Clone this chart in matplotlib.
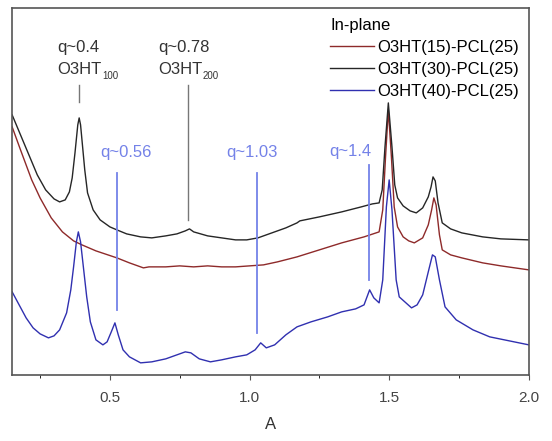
import matplotlib.pyplot as plt

plt.rcParams["font.family"] = ["Liberation Sans", "DejaVu Sans"]

# in-plane line cuts, intensity in arbitrary units (offset stacked)
q_30 = [0.15, 0.18, 0.21, 0.24, 0.27, 0.30, 0.32, 0.34, 0.355, 0.365, 0.375, 0.385, 0.39,
        0.395, 0.40, 0.41, 0.42, 0.44, 0.465, 0.50, 0.525, 0.56, 0.61, 0.65, 0.70, 0.74,
        0.77, 0.785, 0.80, 0.85, 0.90, 0.95, 0.99, 1.03, 1.08, 1.13, 1.17, 1.18, 1.25, 1.33,
        1.40, 1.44, 1.464, 1.475, 1.485, 1.497, 1.51, 1.52, 1.53, 1.55, 1.575, 1.597, 1.62,
        1.64, 1.65, 1.657, 1.665, 1.675, 1.69, 1.72, 1.76, 1.835, 1.9, 2.0]
i_30 = [260, 240, 220, 200, 185, 176, 173, 175, 183, 197, 222, 250, 257,
        250, 235, 205, 182, 165, 155, 148, 145, 141, 138, 137, 139, 141,
        144, 146, 143, 139, 137, 135, 135, 137, 142, 147, 152, 154, 158, 163,
        168, 171, 172, 185, 228, 272, 228, 190, 177, 169, 164, 162, 167,
        178, 188, 198, 194, 172, 152, 146, 142, 138, 136, 135]

q_15 = [0.15, 0.18, 0.22, 0.25, 0.29, 0.33, 0.37, 0.40, 0.45, 0.525, 0.57, 0.62, 0.64, 0.70,
        0.75, 0.80, 0.85, 0.90, 0.95, 1.00, 1.05, 1.10, 1.17, 1.25, 1.33, 1.41, 1.464, 1.477,
        1.487, 1.497, 1.508, 1.518, 1.53, 1.55, 1.57, 1.59, 1.62, 1.64, 1.652, 1.66, 1.668,
        1.68, 1.69, 1.72, 1.76, 1.835, 1.9, 2.0]
i_15 = [248, 225, 195, 177, 157, 143, 134, 130, 124, 117, 112, 107, 108, 108,
        109, 108, 109, 108, 108, 109, 110, 113, 118, 125, 132, 138, 143, 165,
        218, 265, 218, 168, 148, 138, 134, 132, 137, 150, 165, 177, 170,
        140, 125, 120, 117, 112, 109, 105]

q_40 = [0.15, 0.175, 0.20, 0.225, 0.25, 0.28, 0.30, 0.32, 0.345, 0.36, 0.37, 0.38, 0.387,
        0.395, 0.405, 0.417, 0.43, 0.45, 0.475, 0.49, 0.505, 0.518, 0.53, 0.547, 0.57, 0.61,
        0.65, 0.70, 0.74, 0.77, 0.79, 0.82, 0.86, 0.90, 0.95, 0.99, 1.02, 1.04, 1.06, 1.09,
        1.13, 1.17, 1.22, 1.28, 1.33, 1.38, 1.41, 1.43, 1.445, 1.464, 1.477, 1.49, 1.50,
        1.51, 1.525, 1.536, 1.56, 1.58, 1.60, 1.62, 1.64, 1.655, 1.665, 1.68, 1.70, 1.74,
        1.80, 1.86, 1.93, 2.0]
i_40 = [83, 70, 57, 47, 41, 37, 39, 45, 62, 85, 108, 133, 143,
        133, 108, 78, 53, 35, 30, 33, 43, 52, 40, 25, 18, 12,
        13, 16, 20, 23, 22, 16, 13, 15, 18, 20, 25, 32, 27, 30,
        40, 48, 53, 58, 63, 66, 70, 85, 77, 72, 95, 168, 195,
        165, 95, 78, 72, 67, 70, 80, 103, 120, 118, 95, 68, 55,
        45, 38, 34, 30]

series = [
    ("O3HT(15)-PCL(25)", q_15, i_15, "#8e2a2a"),
    ("O3HT(30)-PCL(25)", q_30, i_30, "#262626"),
    ("O3HT(40)-PCL(25)", q_40, i_40, "#3030b0"),
]

fig = plt.figure(figsize=(5.52, 4.41), dpi=100)
ax = fig.add_axes([0.022, 0.15, 0.936, 0.832])

for label, q, inten, color in series:
    ax.plot(q, inten, color=color, lw=1.0, label=label)

# peak markers
gray = "#777777"
blue = "#7482e8"
ax.plot([0.39, 0.39], [273, 290], color=gray, lw=1.0)
ax.plot([0.78, 0.78], [155, 290], color=gray, lw=1.0)
ax.plot([0.525, 0.525], [65, 202], color=blue, lw=1.3)
ax.plot([1.025, 1.025], [42, 202], color=blue, lw=1.3)
ax.plot([1.428, 1.428], [95, 210], color=blue, lw=1.3)


def label_with_sub(x, y, main, sub):
    t = ax.text(x, y, main, color="#333333", fontsize=12, va="center")
    ax.annotate(sub, xy=(1, 0), xycoords=t, xytext=(0.3, 1.0), textcoords="offset points",
                fontsize=7, color="#333333", va="center")


ax.text(0.313, 327, "q~0.4", color="#333333", fontsize=12, va="center")
label_with_sub(0.313, 305, "O3HT", "100")
ax.text(0.673, 327, "q~0.78", color="#333333", fontsize=12, va="center")
label_with_sub(0.673, 305, "O3HT", "200")
ax.text(0.464, 222, "q~0.56", color=blue, fontsize=12, va="center")
ax.text(0.917, 222, "q~1.03", color=blue, fontsize=12, va="center")
ax.text(1.284, 223, "q~1.4", color=blue, fontsize=12, va="center")

ax.set_xlim(0.15, 2.0)
ax.set_ylim(0, 367)
ax.set_xticks([0.5, 1.0, 1.5, 2.0])
ax.set_xticks([0.25, 0.75, 1.25, 1.75], minor=True)
ax.set_yticks([])
ax.tick_params(axis="x", colors="#555555", labelcolor="#444444", labelsize=11, pad=8)
ax.set_xlabel("A", fontsize=12, color="#333333", labelpad=9)
for s in ax.spines.values():
    s.set_color("#555555")
    s.set_linewidth(1.2)

ax.legend(title="In-plane", loc="upper right", frameon=False, fontsize=12,
          title_fontsize=12, alignment="left", handlelength=2.6,
          handletextpad=0.2, labelspacing=0.42, borderaxespad=0.2)

plt.savefig("out.png", dpi=100)
